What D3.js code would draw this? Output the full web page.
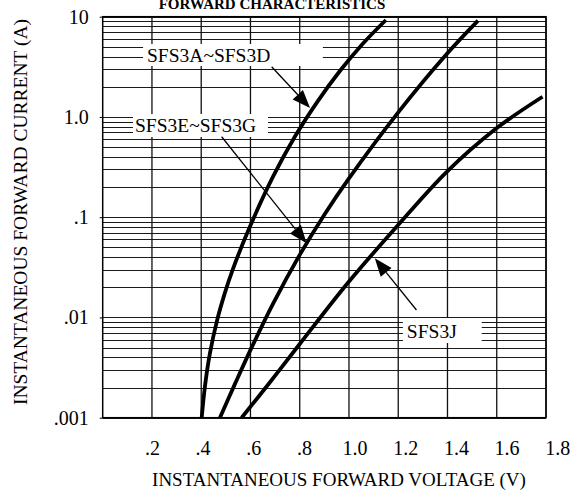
<html>
<head>
<meta charset="utf-8">
<script src="https://cdn.jsdelivr.net/npm/d3@7"></script>
<style>
body { margin: 0; background: #fff; }
text { font-family: "Liberation Serif", "Times New Roman", serif; fill: #000; }
.hgrid line { stroke: #1a1a1a; stroke-width: 1; shape-rendering: crispEdges; }
.vgrid line { stroke: #111; stroke-width: 1.3; }
.frame { fill: none; stroke: #000; stroke-width: 1.5; }
.curve { fill: none; stroke: #000; stroke-width: 3.8; }
.axis path { display: none; }
.axis line { stroke: #000; }
.pointer { stroke: #000; stroke-width: 1.3; }
</style>
</head>
<body>
<svg id="chart" width="583" height="493"></svg>
<script>

// tick values and labels
var xTicks      = [0.2, 0.4, 0.6, 0.8, 1.0, 1.2, 1.4, 1.6, 1.8];
var xTickLabels = [".2", ".4", ".6", ".8", "1.0", "1.2", "1.4", "1.6", "1.8"];
var yTicks      = [0.001, 0.01, 0.1, 1, 10];
var yTickLabels = [".001", ".01", ".1", "1.0", "10"];

// curves (volts, amps)
var voltsAD = [0.402, 0.415, 0.4355, 0.4647, 0.4955, 0.5272, 0.5954, 0.691, 0.780, 0.870, 0.963, 1.056, 1.150];
var ampsAD  = [0.001, 0.00204, 0.0044, 0.0094, 0.0174, 0.0297, 0.078, 0.252, 0.634, 1.40, 2.87, 5.37, 9.27];

var voltsEG = [0.476, 0.538, 0.605, 0.693, 0.800, 0.900, 1.000, 1.196, 1.396, 1.524];
var ampsEG  = [0.001, 0.0022, 0.00503, 0.0139, 0.0421, 0.106, 0.244, 1.08, 4.22, 9.14];

var voltsJ  = [0.564, 0.680, 0.800, 1.000, 1.196, 1.396, 1.595, 1.786];
var ampsJ   = [0.001, 0.00227, 0.00543, 0.0228, 0.0817, 0.282, 0.758, 1.59];

var seriesNames = ["SFS3A~SFS3D", "SFS3E~SFS3G", "SFS3J"];

// callouts: text start, white box and arrow, all in chart units (V, A)
var labelV   = [0.180, 0.131, 1.235];
var labelA   = [3.53, 0.708, 0.00624];
var boxV     = [[0.164, 0.894], [0.123, 0.671], [1.219, 1.539]];
var boxA     = [[5.35, 3.22], [1.07, 0.631], [0.00987, 0.00556]];
var arrowFromV = [0.686, 0.483, 1.274];
var arrowFromA = [3.17, 0.635, 0.01186];
var arrowToV   = [0.842, 0.828, 1.105];
var arrowToA   = [1.23, 0.055, 0.0389];

var svg = d3.select("#chart");

var plotL = 102.7, plotR = 546, plotT = 16.7, plotB = 417.7;

var x = d3.scaleLinear().domain([0, 1.8]).range([plotL, plotR]);
var y = d3.scaleLog().domain([0.001, 10]).range([plotB, plotT]);

// log grid: 1..9 in every decade
var hLines = [];
[0.001, 0.01, 0.1, 1].forEach(function(d){
    for (var k = 1; k < 10; k++) hLines.push(d * k);
});
hLines.push(10);

svg.append("g").attr("class", "hgrid")
    .selectAll("line").data(hLines).enter().append("line")
    .attr("x1", plotL).attr("x2", plotR)
    .attr("y1", function(d){ return Math.round(y(d)) + 0.5 })
    .attr("y2", function(d){ return Math.round(y(d)) + 0.5 });

svg.append("g").attr("class", "vgrid")
    .selectAll("line").data(xTicks).enter().append("line")
    .attr("x1", function(d){ return x(d) }).attr("x2", function(d){ return x(d) })
    .attr("y1", plotT).attr("y2", plotB);

// white boxes behind the callout text
svg.selectAll(".box").data(boxV).enter().append("rect")
    .attr("class", "box")
    .attr("fill", "#fff")
    .attr("x", function(d){ return x(d[0]) })
    .attr("width", function(d){ return x(d[1]) - x(d[0]) })
    .attr("y", function(d, i){ return y(boxA[i][0]) })
    .attr("height", function(d, i){ return y(boxA[i][1]) - y(boxA[i][0]) });

svg.append("rect").attr("class", "frame")
    .attr("x", plotL).attr("y", plotT)
    .attr("width", plotR - plotL).attr("height", plotB - plotT);

// axes
var xAxis = svg.append("g").attr("class", "axis")
    .attr("transform", "translate(0," + plotB + ")")
    .call(d3.axisBottom(x).tickValues(xTicks).tickSize(0).tickPadding(23)
        .tickFormat(function(d, i){ return xTickLabels[i] }));
xAxis.attr("font-family", null).attr("font-size", null);
// the printed labels creep a little to the right of their grid lines
xAxis.selectAll("text").style("font-size", "20px")
    .attr("dx", function(d){ return (d - 0.2) * 7 });

var yAxis = svg.append("g").attr("class", "axis")
    .attr("transform", "translate(" + plotL + ",0)")
    .call(d3.axisLeft(y).tickValues(yTicks).tickSize(3).tickPadding(11)
        .tickFormat(function(d, i){ return yTickLabels[i] }));
yAxis.attr("font-family", null).attr("font-size", null);
yAxis.selectAll("text").style("font-size", "20px");

// curves
var line = d3.line()
    .x(function(d){ return x(d[0]) })
    .y(function(d){ return y(d[1]) })
    .curve(d3.curveCatmullRom.alpha(0.5));

[[voltsAD, ampsAD], [voltsEG, ampsEG], [voltsJ, ampsJ]].forEach(function(s){
    svg.append("path").attr("class", "curve")
        .attr("d", line(d3.zip(s[0], s[1])));
});

// arrows and callout text
var headLen = 18, headHalf = 7;
seriesNames.forEach(function(name, i){
    var x0 = x(arrowFromV[i]), y0 = y(arrowFromA[i]);
    var x1 = x(arrowToV[i]),   y1 = y(arrowToA[i]);
    var a = Math.atan2(y1 - y0, x1 - x0);
    var bx = x1 - headLen * Math.cos(a), by = y1 - headLen * Math.sin(a);
    svg.append("line").attr("class", "pointer")
        .attr("x1", x0).attr("y1", y0).attr("x2", bx).attr("y2", by);
    var pts = [
        [x1, y1],
        [bx + headHalf * Math.sin(a), by - headHalf * Math.cos(a)],
        [bx - headHalf * Math.sin(a), by + headHalf * Math.cos(a)]
    ];
    svg.append("polygon").attr("fill", "#000")
        .attr("points", pts.map(function(p){ return p.join(",") }).join(" "));

    svg.append("text")
        .attr("x", x(labelV[i]))
        .attr("y", y(labelA[i]))
        .style("font-size", "19.5px")
        .text(name);
});

// titles
svg.append("text")
    .attr("x", 272).attr("y", 8.5)
    .attr("text-anchor", "middle")
    .style("font-size", "15px").style("font-weight", "bold")
    .text("FORWARD CHARACTERISTICS");

svg.append("text")
    .attr("x", 339).attr("y", 486)
    .attr("text-anchor", "middle")
    .style("font-size", "19px")
    .text("INSTANTANEOUS FORWARD VOLTAGE (V)");

svg.append("text")
    .attr("transform", "translate(27,212) rotate(-90)")
    .attr("text-anchor", "middle")
    .style("font-size", "19.5px")
    .text("INSTANTANEOUS FORWARD CURRENT (A)");

</script>
</body>
</html>
